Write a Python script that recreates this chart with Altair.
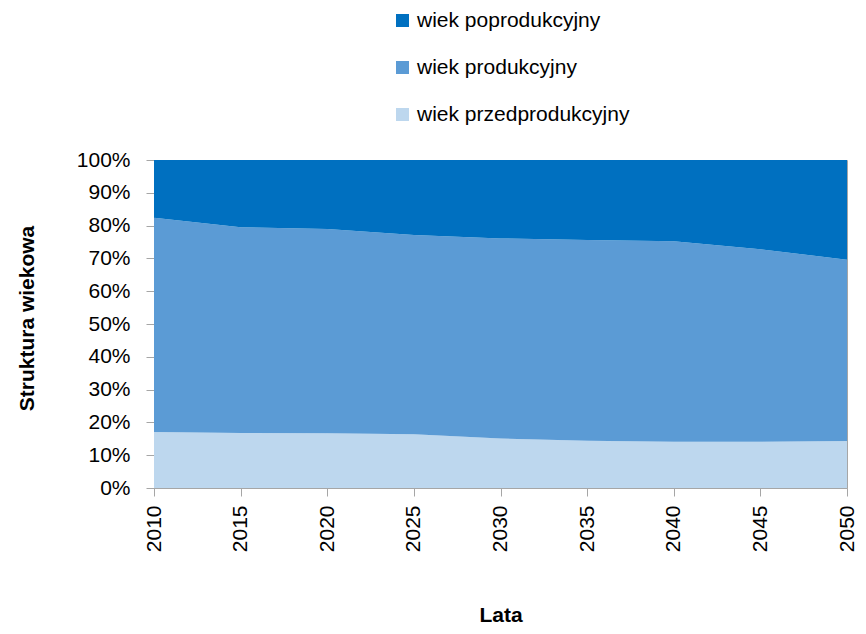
import altair as alt
import pandas as pd

years = [2010, 2015, 2020, 2025, 2030, 2035, 2040, 2045, 2050]
przed = [17.1, 16.8, 16.7, 16.4, 15.1, 14.4, 14.1, 14.1, 14.3]
prod = [65.3, 62.7, 62.3, 60.7, 61.0, 61.2, 61.1, 58.7, 55.3]
popr = [17.6, 20.5, 21.0, 22.9, 23.9, 24.4, 24.8, 27.2, 30.4]

names = ["wiek poprodukcyjny", "wiek produkcyjny", "wiek przedprodukcyjny"]
colors = ["#0070C0", "#5B9BD5", "#BDD7EE"]
y_ticks = [i / 10 for i in range(11)]

rows = []
for i, yr in enumerate(years):
    rows.append({"rok": yr, "grupa": names[2], "udzial": przed[i] / 100, "kolejnosc": 0})
    rows.append({"rok": yr, "grupa": names[1], "udzial": prod[i] / 100, "kolejnosc": 1})
    rows.append({"rok": yr, "grupa": names[0], "udzial": popr[i] / 100, "kolejnosc": 2})
df = pd.DataFrame(rows)

FONT = "Liberation Sans"
FS = 21

chart = alt.Chart(df).mark_area(interpolate="linear", opacity=1).encode(
    x=alt.X(
        "rok:Q",
        scale=alt.Scale(domain=[2010, 2050], nice=False, zero=False),
        axis=alt.Axis(
            title="Lata",
            values=years,
            format="d",
            labelAngle=270,
            labelFlush=False,
            labelOverlap=False,
            labelPadding=9,
            tickSize=8,
            grid=False,
            titleY=133,
            titleBaseline="alphabetic",
        ),
    ),
    y=alt.Y(
        "udzial:Q",
        stack="zero",
        scale=alt.Scale(domain=[0, 1], nice=False),
        axis=alt.Axis(
            title="Struktura wiekowa",
            values=y_ticks,
            format=".0%",
            labelPadding=16,
            tickSize=8,
            grid=False,
            labelFlush=False,
            labelOverlap=False,
            titleAngle=270,
            titleX=-121,
            titleY=158,
            titleAlign="center",
            titleBaseline="alphabetic",
        ),
    ),
    color=alt.Color(
        "grupa:N",
        scale=alt.Scale(domain=names, range=colors),
        legend=alt.Legend(
            title=None,
            orient="none",
            legendX=238,
            legendY=-150,
            symbolType="square",
            symbolSize=169,
            symbolStrokeWidth=0,
            labelOffset=4,
            rowPadding=25,
            padding=0,
        ),
    ),
    order=alt.Order("kolejnosc:Q", sort="ascending"),
).properties(
    width=693,
    height=328,
    autosize=alt.AutoSizeParams(type="none"),
    padding={"left": 146, "top": 152, "right": 11, "bottom": 138},
).configure_view(
    stroke="#A6A6A6",
    strokeWidth=1,
).configure_axis(
    domainColor="#A6A6A6",
    tickColor="#A6A6A6",
    labelFont=FONT,
    labelFontSize=FS,
    labelColor="#000000",
    titleFont=FONT,
    titleFontSize=FS,
    titleFontWeight="bold",
    titleColor="#000000",
).configure_legend(
    labelFont=FONT,
    labelFontSize=FS,
    labelColor="#000000",
    labelLimit=400,
)

chart.save("out.html", embed_options={"renderer": "svg", "actions": False})
